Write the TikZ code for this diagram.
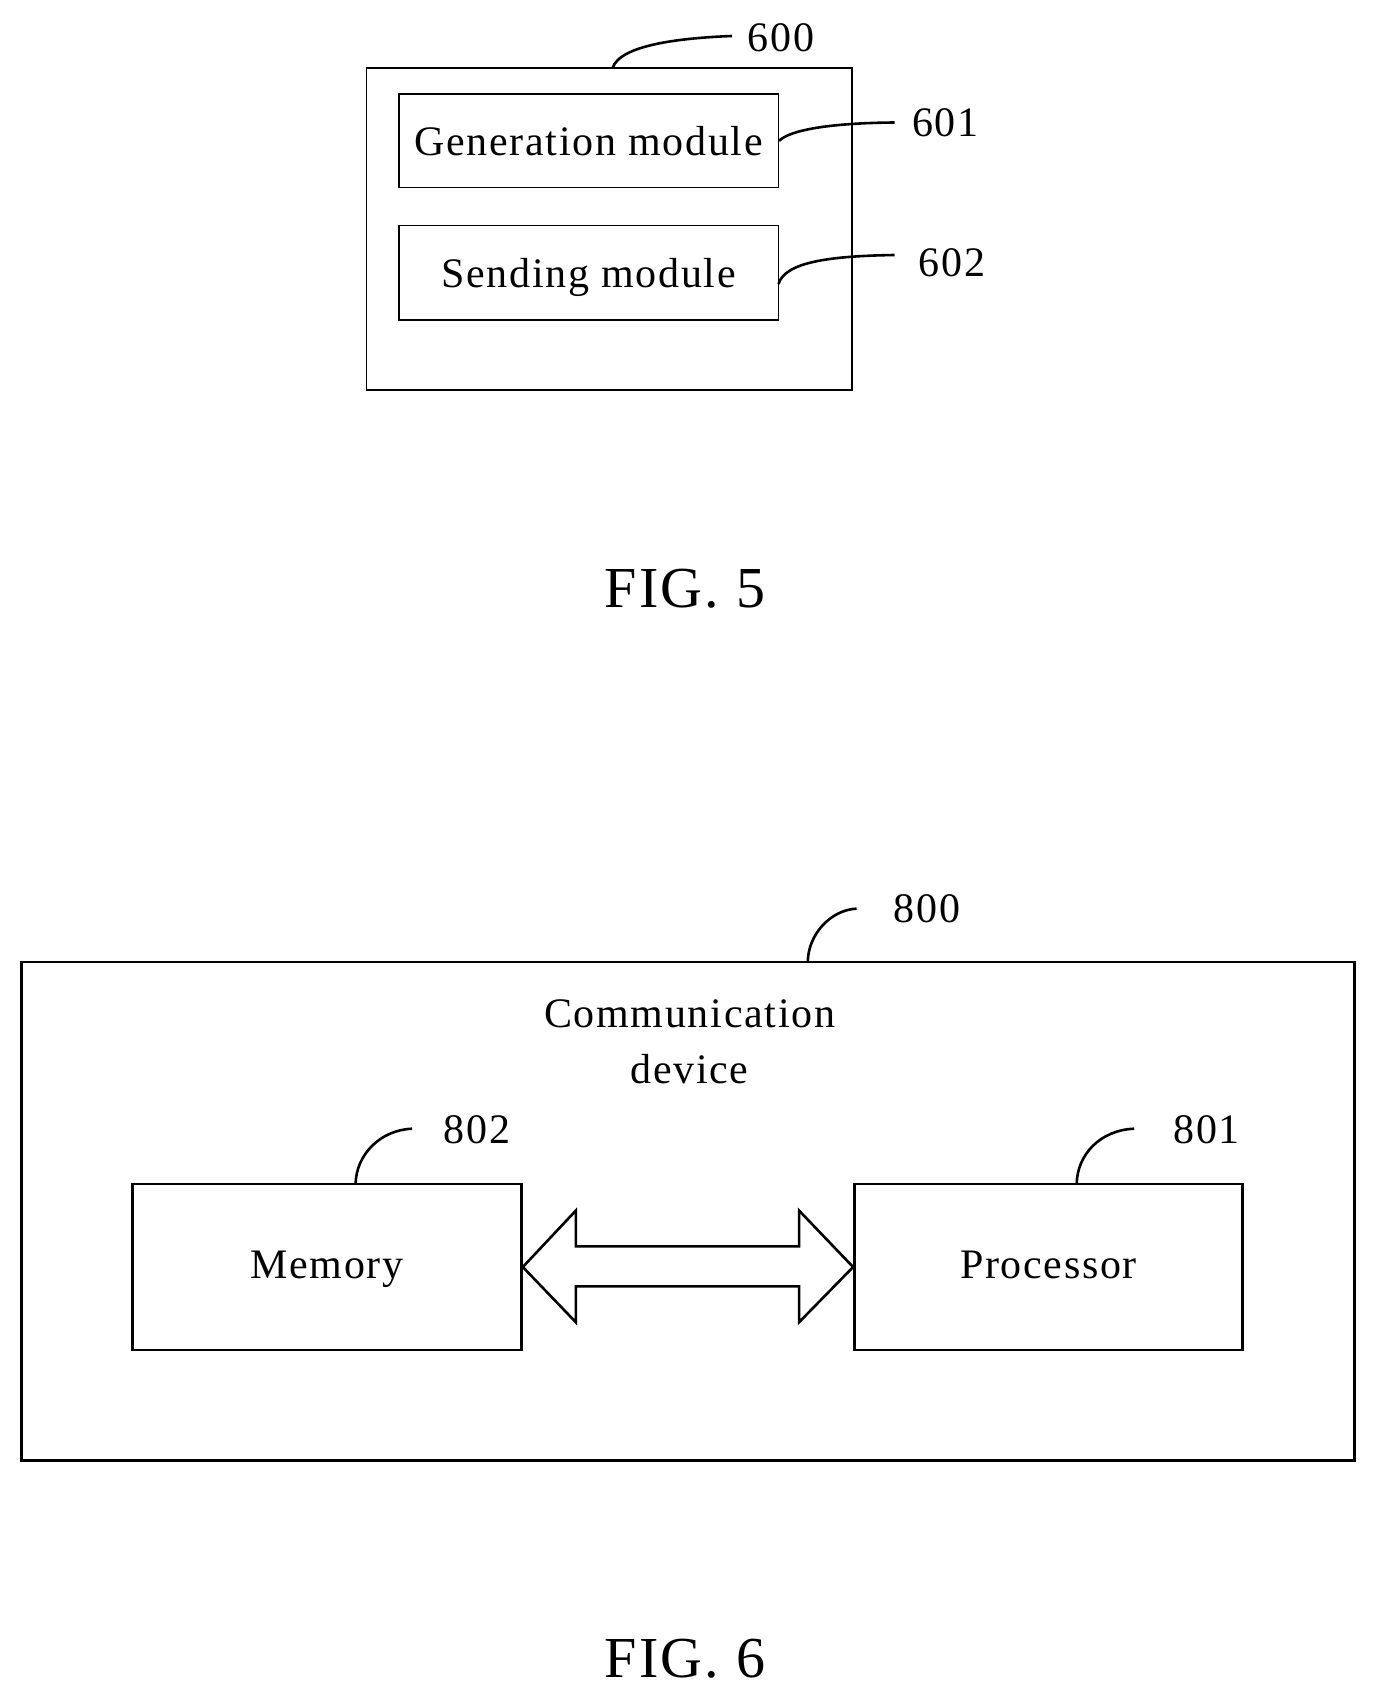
\documentclass[tikz,border=0pt]{standalone}
\usepackage{fontspec}
\setmainfont{Liberation Serif}
\begin{document}
\begin{tikzpicture}[x=0.5pt,y=-0.5pt,
  box/.style={draw,line width=0.6pt,inner sep=0pt,text height=17pt,text depth=2pt},
  bbox/.style={draw,line width=1.3pt,inner sep=0pt,text height=15pt,text depth=4pt},
  lead/.style={line width=1.3pt},
  num/.style={font=\fontsize{21}{24}\selectfont\addfontfeatures{LetterSpace=4}},
  txt/.style={font=\fontsize{21}{25}\selectfont\addfontfeatures{LetterSpace=4}},
  fig/.style={font=\fontsize{29}{32}\selectfont\addfontfeatures{LetterSpace=4}}]
\useasboundingbox (0,0) rectangle (1377,1702);
% FIG 5
\node[box,minimum width=242.75pt,minimum height=161pt] (b600) at (609.25,229) {};
\node[box,minimum width=189.75pt,minimum height=46.8pt,txt] (b601) at (588.75,140.8) {Generation module};
\node[box,minimum width=189.75pt,minimum height=47.25pt,txt] (b602) at (588.75,272.75) {Sending module};
\node[num] (n600) at (781,38) {600};
\node[num] (n601) at (945.5,122.5) {601};
\node[num] (n602) at (952,263) {602};
\coordinate (c600) at (732,36);
\coordinate (c601) at (894.5,122.5);
\coordinate (c602) at (894.5,255);
\draw[lead] (612.6,68) .. controls (620,45) and (680,38) .. (c600);
\draw[lead] (b601.east) .. controls (790,130) and (830,123) .. (c601);
\draw[lead] (778.5,284) .. controls (785,262) and (830,256) .. (c602);
\node[fig] (f5) at (685,589) {FIG. 5};
% FIG 6
\node[bbox,minimum width=666.3pt,minimum height=249.35pt] (b800) at (688,1211.15) {};
\node[txt,align=center,font=\fontsize{21}{28}\selectfont\addfontfeatures{LetterSpace=4}] (cd) at (689.6,1042) {Communication\\device};
\node[bbox,minimum width=194.6pt,minimum height=83pt,txt] (mem) at (326.9,1267) {Memory};
\node[bbox,minimum width=194.1pt,minimum height=83pt,txt] (proc) at (1048.5,1267) {Processor};
\node[num] (n800) at (927,908.6) {800};
\node[num] (n802) at (477,1130) {802};
\node[num] (n801) at (1206.8,1130) {801};
\coordinate (c800) at (856.6,908.6);
\coordinate (c802) at (412,1128.7);
\coordinate (c801) at (1134.2,1128.7);
\draw[lead] (807.8,961.8) .. controls (808,935) and (830,910) .. (c800);
\draw[lead] (355.6,1184) .. controls (356,1155) and (380,1130) .. (c802);
\draw[lead] (1076.7,1184) .. controls (1077,1155) and (1100,1130) .. (c801);
\draw[line width=1.3pt,line join=miter] (mem.east) -- (575.8,1210.6) -- (575.8,1246.4) -- (799.1,1246.4) -- (799.1,1210.6) -- (proc.west) -- (799.1,1322.2) -- (799.1,1286.4) -- (575.8,1286.4) -- (575.8,1322.2) -- cycle;
\node[fig] (f6) at (685,1659) {FIG. 6};
\end{tikzpicture}
\end{document}
